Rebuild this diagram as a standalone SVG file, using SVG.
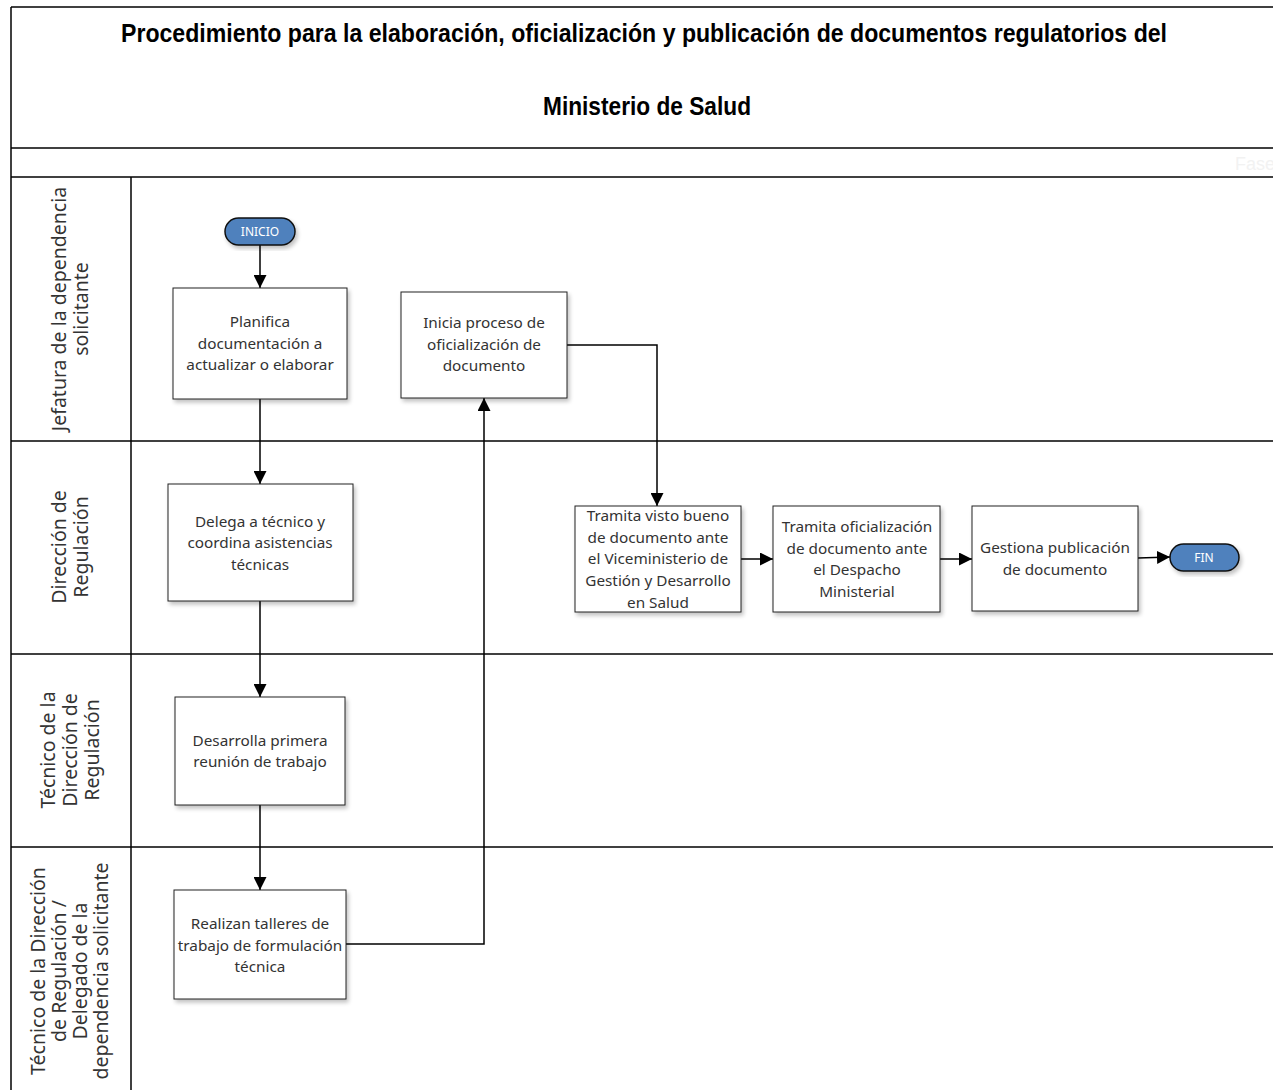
<svg xmlns="http://www.w3.org/2000/svg" width="1273" height="1090" viewBox="0 0 1273 1090">
<defs>
<filter id="sh" x="-10%" y="-10%" width="130%" height="130%">
<feGaussianBlur in="SourceAlpha" stdDeviation="2"/>
<feOffset dx="2" dy="3" result="b"/>
<feComponentTransfer><feFuncA type="linear" slope="0.25"/></feComponentTransfer>
<feMerge><feMergeNode/><feMergeNode in="SourceGraphic"/></feMerge>
</filter>
<marker id="ah" viewBox="0 0 10 10" refX="10" refY="5" markerWidth="13" markerHeight="13" markerUnits="userSpaceOnUse" orient="auto">
<path d="M0,0 L10,5 L0,10 z" fill="#000"/>
</marker>
</defs>
<style>
.frame{fill:none;stroke:#000;stroke-width:1.5}
.box{fill:#fff;stroke:#222;stroke-width:1;filter:url(#sh)}
.pill{fill:#4f81bd;stroke:#111;stroke-width:1.5;filter:url(#sh)}
.t{font-family:"Noto Sans","Open Sans",sans-serif;font-size:15.3px;fill:#333;text-anchor:middle}
.pt{font-family:"Noto Sans","Open Sans",sans-serif;font-size:12px;fill:#fff;text-anchor:middle}
.lane{font-family:"Noto Sans","Open Sans",sans-serif;font-size:19.5px;fill:#333;text-anchor:middle}
.title{font-family:"Liberation Sans",sans-serif;font-weight:bold;font-size:25px;fill:#000;text-anchor:middle}
.c{fill:none;stroke:#000;stroke-width:1.5}
</style>
<rect width="1273" height="1090" fill="#fff"/>
<g id="frame">
<line class="frame" x1="11" y1="7" x2="1273" y2="7"/>
<line class="frame" x1="11" y1="7" x2="11" y2="1090"/>
<line class="frame" x1="11" y1="148" x2="1273" y2="148"/>
<line class="frame" x1="11" y1="177" x2="1273" y2="177"/>
<line class="frame" x1="131" y1="177" x2="131" y2="1090"/>
<line class="frame" x1="11" y1="441" x2="1273" y2="441"/>
<line class="frame" x1="11" y1="654" x2="1273" y2="654"/>
<line class="frame" x1="11" y1="847" x2="1273" y2="847"/>
<text class="title" x="644" y="42" textLength="1046" lengthAdjust="spacingAndGlyphs">Procedimiento para la elaboración, oficialización y publicación de documentos regulatorios del</text>
<text class="title" x="647" y="115" textLength="208" lengthAdjust="spacingAndGlyphs">Ministerio de Salud</text>
<text x="1235" y="170" font-family="Liberation Sans, sans-serif" font-size="18" fill="#f2f2f2">Fase</text>
</g>
<g id="lanes">
<text class="lane" transform="translate(0,309) rotate(-90)"><tspan x="0" y="66">Jefatura de la dependencia</tspan><tspan x="0" y="88">solicitante</tspan></text>
<text class="lane" transform="translate(0,547) rotate(-90)"><tspan x="0" y="66">Dirección de</tspan><tspan x="0" y="88">Regulación</tspan></text>
<text class="lane" transform="translate(0,750) rotate(-90)"><tspan x="0" y="55">Técnico de la</tspan><tspan x="0" y="77">Dirección de</tspan><tspan x="0" y="99">Regulación</tspan></text>
<text class="lane" transform="translate(0,971) rotate(-90)"><tspan x="0" y="45">Técnico de la Dirección</tspan><tspan x="0" y="66">de Regulación /</tspan><tspan x="0" y="87">Delegado de la</tspan><tspan x="0" y="108">dependencia solicitante</tspan></text>
</g>
<g id="connectors">
<line class="c" x1="260" y1="245" x2="260" y2="288" marker-end="url(#ah)"/>
<line class="c" x1="260" y1="399" x2="260" y2="484" marker-end="url(#ah)"/>
<line class="c" x1="260" y1="601" x2="260" y2="697" marker-end="url(#ah)"/>
<line class="c" x1="260" y1="805" x2="260" y2="890" marker-end="url(#ah)"/>
<polyline class="c" points="346,944 484,944 484,398" marker-end="url(#ah)"/>
<polyline class="c" points="567,345 657,345 657,506" marker-end="url(#ah)"/>
<line class="c" x1="741" y1="559" x2="773" y2="559" marker-end="url(#ah)"/>
<line class="c" x1="940" y1="559" x2="972" y2="559" marker-end="url(#ah)"/>
<line class="c" x1="1138" y1="558" x2="1170" y2="557" marker-end="url(#ah)"/>
</g>
<g id="inicio"><rect class="pill" x="225" y="218" width="70" height="27" rx="13.5"/><text class="pt" x="260" y="236">INICIO</text></g>
<g id="planifica"><rect class="box" x="173" y="288" width="174" height="111"/><text class="t"><tspan x="260" y="327">Planifica</tspan><tspan x="260" y="349">documentación a</tspan><tspan x="260" y="370">actualizar o elaborar</tspan></text></g>
<g id="inicia"><rect class="box" x="401" y="292" width="166" height="106"/><text class="t"><tspan x="484" y="328">Inicia proceso de</tspan><tspan x="484" y="350">oficialización de</tspan><tspan x="484" y="371">documento</tspan></text></g>
<g id="delega"><rect class="box" x="168" y="484" width="185" height="117"/><text class="t"><tspan x="260" y="527">Delega a técnico y</tspan><tspan x="260" y="548">coordina asistencias</tspan><tspan x="260" y="570">técnicas</tspan></text></g>
<g id="desarrolla"><rect class="box" x="175" y="697" width="170" height="108"/><text class="t"><tspan x="260" y="746">Desarrolla primera</tspan><tspan x="260" y="767">reunión de trabajo</tspan></text></g>
<g id="realizan"><rect class="box" x="174" y="890" width="172" height="109"/><text class="t"><tspan x="260" y="929">Realizan talleres de</tspan><tspan x="260" y="951">trabajo de formulación</tspan><tspan x="260" y="972">técnica</tspan></text></g>
<g id="visto"><rect class="box" x="575" y="506" width="166" height="106"/><text class="t"><tspan x="658" y="521">Tramita visto bueno</tspan><tspan x="658" y="543">de documento ante</tspan><tspan x="658" y="564">el Viceministerio de</tspan><tspan x="658" y="586">Gestión y Desarrollo</tspan><tspan x="658" y="608">en Salud</tspan></text></g>
<g id="oficializacion"><rect class="box" x="773" y="506" width="167" height="106"/><text class="t"><tspan x="857" y="532">Tramita oficialización</tspan><tspan x="857" y="554">de documento ante</tspan><tspan x="857" y="575">el Despacho</tspan><tspan x="857" y="597">Ministerial</tspan></text></g>
<g id="gestiona"><rect class="box" x="972" y="506" width="166" height="105"/><text class="t"><tspan x="1055" y="553">Gestiona publicación</tspan><tspan x="1055" y="575">de documento</tspan></text></g>
<g id="fin"><rect class="pill" x="1170" y="544" width="69" height="27" rx="13.5"/><text class="pt" x="1204" y="562">FIN</text></g>
</svg>
